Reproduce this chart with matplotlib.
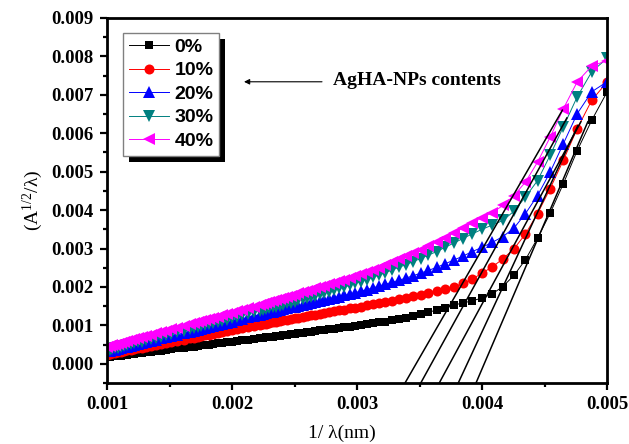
import matplotlib
matplotlib.use("Agg")
import matplotlib.pyplot as plt
from matplotlib.ticker import MultipleLocator, FormatStrFormatter
from matplotlib.patches import Rectangle
from matplotlib.font_manager import FontProperties

plt.rcParams["mathtext.fontset"] = "custom"
plt.rcParams["mathtext.rm"] = "Liberation Serif"
plt.rcParams["mathtext.it"] = "Liberation Serif:italic"
plt.rcParams["mathtext.bf"] = "Liberation Serif:bold"

# ---------------- data ----------------
lam_nm = list(range(200, 455, 5)) + list(range(460, 610, 10)) + list(range(620, 1020, 20))

labels = ["0%", "10%", "20%", "30%", "40%"]

y_0 = [0.00707, 0.00634, 0.00555, 0.00469, 0.00392, 0.00327, 0.00271, 0.00230, 0.00201, 0.00182,
       0.00171, 0.00164, 0.00158, 0.00153, 0.00146, 0.00140, 0.00134, 0.00129, 0.00124, 0.00120,
       0.00116, 0.00113, 0.00110, 0.00108, 0.00105, 0.00103, 0.00100, 0.00098, 0.00097, 0.00095,
       0.00093, 0.00091, 0.00090, 0.00088, 0.00087, 0.00085, 0.00084, 0.00082, 0.00081, 0.00079,
       0.00078, 0.00077, 0.00076, 0.00074, 0.00073, 0.00072, 0.00071, 0.00070, 0.00069, 0.00068,
       0.00067, 0.00065, 0.00063, 0.00061, 0.00060, 0.00058, 0.00056, 0.00055, 0.00053, 0.00052,
       0.00050, 0.00049, 0.00048, 0.00046, 0.00045, 0.00044, 0.00042, 0.00040, 0.00038, 0.00036,
       0.00034, 0.00033, 0.00031, 0.00030, 0.00028, 0.00027, 0.00026, 0.00025, 0.00023, 0.00022,
       0.00021, 0.00020, 0.00020, 0.00019, 0.00018, 0.00017]

y_10 = [0.00733, 0.00686, 0.00612, 0.00530, 0.00456, 0.00391, 0.00338, 0.00299, 0.00273, 0.00252,
        0.00236, 0.00220, 0.00209, 0.00200, 0.00194, 0.00189, 0.00184, 0.00180, 0.00176, 0.00172,
        0.00168, 0.00164, 0.00161, 0.00158, 0.00155, 0.00152, 0.00149, 0.00146, 0.00144, 0.00141,
        0.00139, 0.00137, 0.00135, 0.00133, 0.00130, 0.00128, 0.00126, 0.00124, 0.00122, 0.00120,
        0.00118, 0.00116, 0.00114, 0.00113, 0.00111, 0.00109, 0.00108, 0.00106, 0.00104, 0.00103,
        0.00101, 0.00098, 0.00095, 0.00092, 0.00090, 0.00087, 0.00085, 0.00082, 0.00080, 0.00078,
        0.00076, 0.00074, 0.00072, 0.00070, 0.00068, 0.00066, 0.00063, 0.00060, 0.00057, 0.00054,
        0.00051, 0.00049, 0.00046, 0.00044, 0.00042, 0.00040, 0.00038, 0.00036, 0.00035, 0.00033,
        0.00031, 0.00030, 0.00028, 0.00027, 0.00025, 0.00024]

y_20 = [0.00734, 0.00708, 0.00651, 0.00573, 0.00499, 0.00438, 0.00391, 0.00353, 0.00331, 0.00316,
        0.00303, 0.00292, 0.00280, 0.00270, 0.00260, 0.00251, 0.00243, 0.00236, 0.00229, 0.00223,
        0.00217, 0.00212, 0.00207, 0.00202, 0.00197, 0.00193, 0.00189, 0.00185, 0.00181, 0.00178,
        0.00175, 0.00172, 0.00169, 0.00166, 0.00163, 0.00161, 0.00158, 0.00156, 0.00153, 0.00151,
        0.00149, 0.00147, 0.00145, 0.00142, 0.00140, 0.00138, 0.00136, 0.00134, 0.00132, 0.00130,
        0.00128, 0.00124, 0.00121, 0.00117, 0.00114, 0.00110, 0.00107, 0.00104, 0.00101, 0.00099,
        0.00096, 0.00093, 0.00091, 0.00089, 0.00086, 0.00084, 0.00080, 0.00076, 0.00073, 0.00069,
        0.00066, 0.00063, 0.00060, 0.00057, 0.00055, 0.00052, 0.00050, 0.00047, 0.00045, 0.00043,
        0.00041, 0.00039, 0.00037, 0.00035, 0.00033, 0.00032]

y_30 = [0.00795, 0.00760, 0.00695, 0.00617, 0.00543, 0.00477, 0.00434, 0.00397, 0.00373, 0.00361,
        0.00350, 0.00338, 0.00326, 0.00314, 0.00303, 0.00292, 0.00283, 0.00274, 0.00266, 0.00258,
        0.00251, 0.00244, 0.00237, 0.00231, 0.00225, 0.00219, 0.00214, 0.00209, 0.00204, 0.00200,
        0.00196, 0.00192, 0.00188, 0.00184, 0.00181, 0.00177, 0.00174, 0.00171, 0.00168, 0.00165,
        0.00162, 0.00159, 0.00157, 0.00154, 0.00151, 0.00149, 0.00147, 0.00144, 0.00142, 0.00140,
        0.00138, 0.00134, 0.00130, 0.00126, 0.00122, 0.00119, 0.00115, 0.00112, 0.00109, 0.00106,
        0.00103, 0.00100, 0.00098, 0.00095, 0.00093, 0.00090, 0.00086, 0.00082, 0.00078, 0.00074,
        0.00071, 0.00067, 0.00064, 0.00061, 0.00058, 0.00056, 0.00053, 0.00051, 0.00048, 0.00046,
        0.00044, 0.00042, 0.00040, 0.00038, 0.00036, 0.00034]

y_40 = [0.00789, 0.00775, 0.00734, 0.00664, 0.00590, 0.00525, 0.00473, 0.00438, 0.00412, 0.00393,
        0.00380, 0.00366, 0.00353, 0.00340, 0.00328, 0.00317, 0.00307, 0.00297, 0.00288, 0.00280,
        0.00272, 0.00264, 0.00257, 0.00250, 0.00244, 0.00238, 0.00233, 0.00228, 0.00223, 0.00219,
        0.00215, 0.00211, 0.00207, 0.00203, 0.00199, 0.00196, 0.00192, 0.00189, 0.00186, 0.00183,
        0.00180, 0.00177, 0.00174, 0.00171, 0.00168, 0.00166, 0.00163, 0.00161, 0.00158, 0.00156,
        0.00154, 0.00149, 0.00145, 0.00141, 0.00137, 0.00133, 0.00130, 0.00126, 0.00123, 0.00120,
        0.00117, 0.00114, 0.00111, 0.00108, 0.00106, 0.00103, 0.00099, 0.00094, 0.00090, 0.00086,
        0.00083, 0.00079, 0.00076, 0.00073, 0.00070, 0.00067, 0.00064, 0.00062, 0.00059, 0.00057,
        0.00054, 0.00052, 0.00050, 0.00048, 0.00046, 0.00044]

series = [y_0, y_10, y_20, y_30, y_40]

# linear (Tauc-like) fit lines: x at bottom of axis, slope, top y
fit_x_bottom = [0.003952, 0.003810, 0.003658, 0.003510, 0.003384]
fit_slope = [7.6, 7.0, 6.0, 5.9, 5.64]
fit_y_top = [0.0063, 0.0062, 0.0063, 0.0064, 0.0066]

x_ticks = [0.001, 0.002, 0.003, 0.004, 0.005]
y_ticks = [0.000, 0.001, 0.002, 0.003, 0.004, 0.005, 0.006, 0.007, 0.008, 0.009]

# ---------------- style ----------------
colors = ["#000000", "#ff0000", "#0000ff", "#008080", "#ff00ff"]
markers = ["s", "o", "^", "v", "<"]
msizes = [6.3, 7.2, 8.4, 8.4, 8.4]

fig = plt.figure(figsize=(6.29, 4.44), dpi=100)
ax = fig.add_axes([107 / 629, 1 - 383 / 444, 500 / 629, 365 / 444])

xvals = [1.0 / l for l in lam_nm]
for ys, c, m, s, lab in zip(series, colors, markers, msizes, labels):
    ax.plot(xvals, ys, color=c, marker=m, ms=s, mew=0, lw=0.7, label=lab, zorder=2)

y_bottom = -0.0005
for xb, sl, yt in zip(fit_x_bottom, fit_slope, fit_y_top):
    xt = xb + (yt - y_bottom) / sl
    ax.plot([xb, xt], [y_bottom, yt], color="black", lw=1.1, zorder=3)

ax.set_xlim(0.001, 0.005)
ax.set_ylim(-0.0005, 0.009)
ax.set_xticks(x_ticks)
ax.set_yticks(y_ticks)
ax.xaxis.set_minor_locator(MultipleLocator(0.0005))
ax.yaxis.set_minor_locator(MultipleLocator(0.0005))
ax.xaxis.set_major_formatter(FormatStrFormatter("%.3f"))
ax.yaxis.set_major_formatter(FormatStrFormatter("%.3f"))

for sp in ax.spines.values():
    sp.set_linewidth(2.0)
ax.tick_params(which="major", direction="out", length=5, width=1.6, top=False, right=False, pad=4.5)
ax.tick_params(which="minor", direction="out", length=3, width=1.6, top=False, right=False)

tick_font = FontProperties(family="Liberation Serif", weight="bold", size=13.5)
for t in ax.get_xticklabels() + ax.get_yticklabels():
    t.set_fontproperties(tick_font)

fig.text(342 / 629, 1 - 433 / 444, "1/ λ(nm)", family="Liberation Serif", size=14,
         ha="center", va="center")
fig.text(33 / 629, 1 - 200 / 444, r"(A$^{\mathrm{1/2}}$/λ)", family="Liberation Serif", size=14,
         ha="center", va="center", rotation=90)

ax.annotate("", xy=(0.002096, 0.00734), xytext=(0.00272, 0.00734),
            arrowprops=dict(arrowstyle="-|>", color="black", lw=0.8, mutation_scale=8,
                            shrinkA=0, shrinkB=0))
ax.text(0.002808, 0.00738, "AgHA-NPs contents", family="Liberation Serif", weight="bold",
        size=14, ha="left", va="center")

leg = ax.legend(loc="upper left", bbox_to_anchor=(0.0314, 0.96), borderaxespad=0,
                prop=FontProperties(family="Liberation Sans", weight="bold", size=14),
                handlelength=2.1, handletextpad=0.27, labelspacing=0.3, borderpad=0.3,
                frameon=True, fancybox=False, edgecolor="#808080", framealpha=1)
leg.get_frame().set_linewidth(1.0)
leg.set_zorder(5)

fig.canvas.draw()
bb = leg.get_window_extent()
inv = ax.transAxes.inverted()
(sx0, sy0) = inv.transform((bb.x0 + 6, bb.y0 - 6))
(sx1, sy1) = inv.transform((bb.x1 + 6, bb.y1 - 6))
ax.add_patch(Rectangle((sx0, sy0), sx1 - sx0, sy1 - sy0, transform=ax.transAxes,
                       facecolor="black", edgecolor="none", zorder=4.9, clip_on=False))

fig.savefig("out.png", dpi=100, facecolor="white")
